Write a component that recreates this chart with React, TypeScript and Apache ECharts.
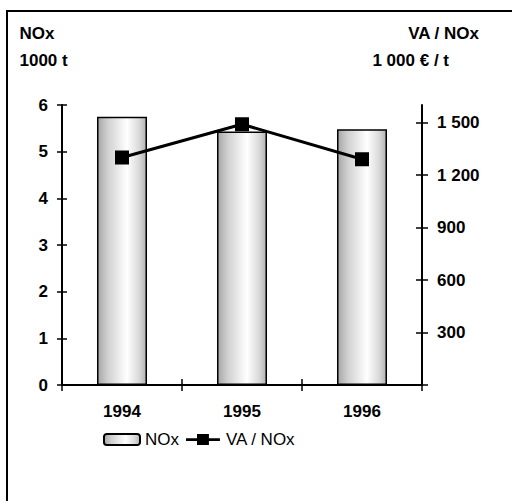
import React, { useEffect, useRef } from "react";
import * as echarts from "echarts";

const years = ["1994", "1995", "1996"];
const noxValues = [5.75, 5.43, 5.48];
const vaPerNoxValues = [1300, 1490, 1290];
const leftTickValues = [0, 1, 2, 3, 4, 5, 6];
const rightTickValues = [0, 300, 600, 900, 1200, 1500];
const rightLabelValues = [300, 600, 900, 1200, 1500];
const titleLeft = ["NOx", "1000 t"];
const titleRight = ["VA / NOx", "1 000 € / t"];
const seriesNames = ["NOx", "VA / NOx"];

const FONT = "'Liberation Sans', Arial, sans-serif";
const fmt = (v: number) => String(v).replace(/\B(?=(\d{3})+(?!\d))/g, " ");

export default function App() {
  const ref = useRef<HTMLDivElement>(null);
  useEffect(() => {
    if (!ref.current) return;
    const chart = echarts.init(ref.current, null, { renderer: "svg" });
    const axisLine = { show: true, lineStyle: { color: "#000", width: 2 } };
    const tickStyle = { color: "#000", width: 1.5 };
    const labelStyle = { color: "#000", fontSize: 17, fontWeight: "bold" as const, fontFamily: FONT };
    const barGradient = new echarts.graphic.LinearGradient(0, 0, 1, 0, [
      { offset: 0, color: "#a6a6a6" },
      { offset: 0.2, color: "#cfcfcf" },
      { offset: 0.6, color: "#ffffff" },
      { offset: 0.85, color: "#dadada" },
      { offset: 1, color: "#b3b3b3" },
    ]);
    chart.setOption({
      animation: false,
      backgroundColor: "#fff",
      grid: { left: 62, right: 90, top: 105, bottom: 116, containLabel: false },
      xAxis: [
        {
          type: "category",
          data: years,
          position: "bottom",
          boundaryGap: true,
          axisLine,
          axisTick: { show: true, inside: false, length: 6, lineStyle: tickStyle, interval: 0 },
          axisLabel: { ...labelStyle, margin: 18 },
          splitLine: { show: false },
        },
        {
          type: "category",
          data: years,
          position: "bottom",
          boundaryGap: true,
          axisLine: { show: false },
          axisTick: { show: true, inside: true, length: 6, lineStyle: tickStyle, interval: 0 },
          axisLabel: { show: false },
          splitLine: { show: false },
        },
      ],
      yAxis: [
        {
          type: "value",
          position: "left",
          min: 0,
          max: 6,
          interval: 1,
          axisLine,
          axisTick: { show: true, inside: false, length: 5, lineStyle: tickStyle, customValues: leftTickValues },
          axisLabel: { ...labelStyle, margin: 14, customValues: leftTickValues },
          splitLine: { show: false },
        },
        {
          type: "value",
          position: "left",
          min: 0,
          max: 6,
          interval: 1,
          axisLine: { show: false },
          axisTick: { show: true, inside: true, length: 5, lineStyle: tickStyle, customValues: leftTickValues },
          axisLabel: { show: false },
          splitLine: { show: false },
        },
        {
          type: "value",
          position: "right",
          min: 0,
          max: 1600,
          interval: 100,
          axisLine,
          axisTick: { show: true, inside: false, length: 6, lineStyle: tickStyle, customValues: rightTickValues },
          axisLabel: { ...labelStyle, margin: 15, customValues: rightLabelValues, formatter: (v: number) => fmt(v) },
          splitLine: { show: false },
        },
        {
          type: "value",
          position: "right",
          min: 0,
          max: 1600,
          interval: 100,
          axisLine: { show: false },
          axisTick: { show: true, inside: true, length: 6, lineStyle: tickStyle, customValues: rightTickValues },
          axisLabel: { show: false },
          splitLine: { show: false },
        },
      ],
      legend: {
        left: 103,
        top: 431,
        itemWidth: 36,
        itemHeight: 11,
        itemGap: 7,
        padding: 0,
        textStyle: { color: "#000", fontSize: 17, fontFamily: FONT },
        data: [
          { name: seriesNames[0] },
          {
            name: seriesNames[1],
            icon: "path://M0,4.5 H12 V0 H25 V4.5 H37 V7.5 H25 V12 H12 V7.5 H0 Z",
            itemStyle: { color: "#000", borderWidth: 0 },
          },
        ],
      },
      series: [
        {
          name: seriesNames[0],
          type: "bar",
          xAxisIndex: 0,
          yAxisIndex: 0,
          data: noxValues,
          barWidth: 50,
          itemStyle: { color: barGradient, borderColor: "#000", borderWidth: 1.5 },
        },
        {
          name: seriesNames[1],
          type: "line",
          xAxisIndex: 0,
          yAxisIndex: 2,
          data: vaPerNoxValues,
          symbol: "rect",
          symbolSize: 14,
          z: 5,
          lineStyle: { color: "#000", width: 3 },
          itemStyle: { color: "#000" },
        },
      ],
      graphic: [
        { type: "line", shape: { x1: 6, y1: 11, x2: 512, y2: 11 }, style: { stroke: "#000", lineWidth: 2 } },
        { type: "line", shape: { x1: 7, y1: 10, x2: 7, y2: 501 }, style: { stroke: "#000", lineWidth: 2 } },
        { type: "text", x: 19.5, y: 33.5, style: { text: titleLeft[0], font: `bold 17px ${FONT}`, fill: "#000", align: "left", verticalAlign: "middle" } },
        { type: "text", x: 19.5, y: 60, style: { text: titleLeft[1], font: `bold 17px ${FONT}`, fill: "#000", align: "left", verticalAlign: "middle" } },
        { type: "text", x: 479, y: 33.5, style: { text: titleRight[0], font: `bold 17px ${FONT}`, fill: "#000", align: "right", verticalAlign: "middle" } },
        { type: "text", x: 449, y: 60, style: { text: titleRight[1], font: `bold 17px ${FONT}`, fill: "#000", align: "right", verticalAlign: "middle" } },
      ],
    });
    return () => chart.dispose();
  }, []);
  return <div ref={ref} style={{ position: "absolute", left: 0, top: 0, width: 512, height: 501 }} />;
}
